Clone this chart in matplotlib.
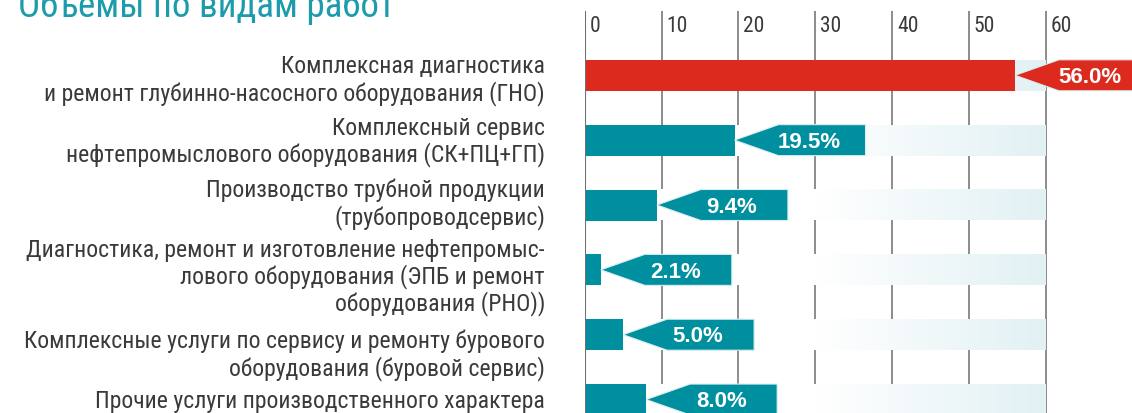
import numpy as np
import matplotlib
matplotlib.use("Agg")
import matplotlib.pyplot as plt
from matplotlib import font_manager
from matplotlib.colors import LinearSegmentedColormap
from matplotlib.patches import Polygon

# data
categories = [
    "Комплексная диагностика\nи ремонт глубинно-насосного оборудования (ГНО)",
    "Комплексный сервис\nнефтепромыслового оборудования (СК+ПЦ+ГП)",
    "Производство трубной продукции\n(трубопроводсервис)",
    "Диагностика, ремонт и изготовление нефтепромыс-\nлового оборудования (ЭПБ и ремонт\nоборудования (РНО))",
    "Комплексные услуги по сервису и ремонту бурового\nоборудования (буровой сервис)",
    "Прочие услуги производственного характера",
]
shares = [56.0, 19.5, 9.4, 2.1, 5.0, 8.0]
ticks = [0, 10, 20, 30, 40, 50, 60]
title = "Объемы по видам работ"

RED = "#dc2b1e"
TEAL = "#008f9f"
TEXT = "#3a3a3a"

names = {f.name for f in font_manager.fontManager.ttflist}
def pick(*cands):
    return next((c for c in cands if c in names), "DejaVu Sans")

narrow = pick("Liberation Sans Narrow", "Roboto Condensed", "Liberation Sans")
regular = pick("Liberation Sans", "DejaVu Sans")

W, H = 1132, 414
fig = plt.figure(figsize=(W / 100, H / 100), dpi=100)
renderer = fig.canvas.get_renderer()

# pixel layout of the bar area
x0_px, px_per_unit = 584.7, 7.683
row0_px, row_step = 76.3, 64.85
ax = fig.add_axes([x0_px / W, 0, (W - x0_px) / W, 1])
xmax = (W - x0_px) / px_per_unit
ymin, ymax = -row0_px / row_step, (H - row0_px) / row_step
ax.set_axis_off()

y = np.arange(len(shares))
h = 31 / row_step

# grid lines
ax.vlines(ticks[1:], -0.996, ymax + 1, color="#8c8c8c", lw=1.4, zorder=0)
ax.vlines([0], -0.996, ymax + 1, color="#707070", lw=1.5, zorder=6)
for t in ticks:
    ax.text(t + 5 / px_per_unit, (32 - row0_px) / row_step, str(t),
            fontsize=15.5, family=narrow, color=TEXT, va="baseline", ha="left")

# light gradient track behind each bar
track = LinearSegmentedColormap.from_list("track", ["#ffffff", "#ffffff", "#e2f1f4"])
grad = np.linspace(0, 1, 256).reshape(1, -1)
for yi in y:
    ax.imshow(grad, cmap=track, extent=(0, 60, yi + h / 2, yi - h / 2),
              aspect="auto", zorder=1, interpolation="bilinear")

colors = [RED] + [TEAL] * (len(shares) - 1)
ax.barh(y, shares, height=h, color=colors, zorder=2)

# arrow-shaped value tags pointing at bar ends
tri = 44 / px_per_unit
length = 131 / px_per_unit
for yi, v, c in zip(y, shares, colors):
    pts = [(v, yi), (v + tri, yi - h / 2), (v + length, yi - h / 2),
           (v + length, yi + h / 2), (v + tri, yi + h / 2)]
    ax.add_patch(Polygon(pts, closed=True, facecolor=c, edgecolor="#d8eef1",
                         lw=0.8, zorder=3))
    ax.text(v + 75 / px_per_unit, yi + 0.02, f"{v:.1f}%", color="white",
            fontsize=16, fontweight="bold", family=regular,
            ha="center", va="center", zorder=4)

ax.set_xlim(0, xmax)
ax.set_ylim(ymax, ymin)

# category labels, right aligned, first-line baselines in pixels
label_base = [73.3, 135.0, 197.3, 256.7, 348.3, 408.3]
line_step = 26.8
label_right = 545
label_texts = []
for lab, b in zip(categories, label_base):
    for k, line in enumerate(lab.split("\n")):
        t = fig.text(label_right / W, 1 - (b + k * line_step) / H, line,
                     fontsize=15.5, family=narrow, color=TEXT,
                     ha="right", va="baseline")
        label_texts.append((line, t))

# scale label font so the longest line spans its measured width
ref = dict(label_texts)["Диагностика, ремонт и изготовление нефтепромыс-"]
w = ref.get_window_extent(renderer).width
size = 15.5 * 520 / w
for _, t in label_texts:
    t.set_fontsize(size)

tt = fig.text(18 / W, 1 - 16.7 / H, title, fontsize=24, family=narrow,
              color="#1b9bab", ha="left", va="baseline")
w = tt.get_window_extent(renderer).width
tt.set_fontsize(24 * 377 / w)

fig.savefig("out.png", dpi=100)
